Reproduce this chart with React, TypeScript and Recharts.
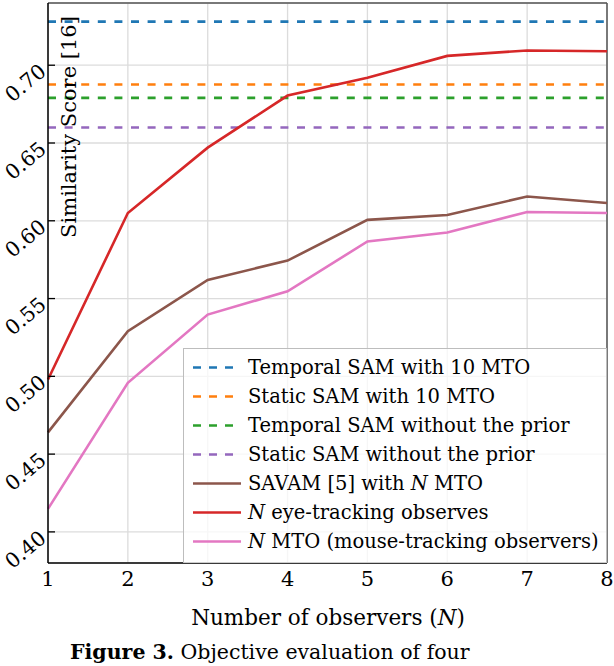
import { LineChart, Line, XAxis, YAxis, CartesianGrid, ReferenceLine } from 'recharts'

// observers N on the x axis
const observers = [1, 2, 3, 4, 5, 6, 7, 8]

// curves
const eyeTracking = [0.498, 0.605, 0.647, 0.6805, 0.692, 0.706, 0.7095, 0.709]
const savamMto = [0.464, 0.529, 0.562, 0.5744, 0.6006, 0.6037, 0.6156, 0.6114]
const mouseTracking = [0.4148, 0.4958, 0.5397, 0.5547, 0.5867, 0.5925, 0.6056, 0.605]

// constant baselines (dashed)
const baselineNames = [
  'Temporal SAM with 10 MTO',
  'Static SAM with 10 MTO',
  'Temporal SAM without the prior',
  'Static SAM without the prior',
]
const baselineValues = [0.728, 0.6876, 0.679, 0.66]
const baselineColors = ['#1f77b4', '#ff7f0e', '#2ca02c', '#9467bd']

const yTicks = [0.4, 0.45, 0.5, 0.55, 0.6, 0.65, 0.7]

const FONT = '"DejaVu Serif", "Liberation Serif", serif'
const W = 614
const H = 666
const PLOT_LEFT = 48

const data = observers.map((n, i) => ({
  n,
  eye: eyeTracking[i],
  savam: savamMto[i],
  mto: mouseTracking[i],
}))

const YTick = (props: any) => {
  const { y, payload } = props
  const ax = 43
  const ay = y + 3
  return (
    <g>
      <line x1={PLOT_LEFT} x2={PLOT_LEFT + 7} y1={y} y2={y} stroke="#000" strokeWidth={1.3} />
      <text
        x={ax}
        y={ay}
        textAnchor="end"
        dominantBaseline="central"
        fontFamily={FONT}
        fontSize={20.5}
        fill="#000"
        transform={`rotate(-40 ${ax} ${ay})`}
      >
        {payload.value.toFixed(2)}
      </text>
    </g>
  )
}

const solidSeries = [
  { key: 'savam', color: '#8c564b', label: <>SAVAM [5] with <i>N</i> MTO</> },
  { key: 'eye', color: '#d62728', label: <><i>N</i> eye-tracking observes</> },
  { key: 'mto', color: '#e377c2', label: <><i>N</i> MTO (mouse-tracking observers)</> },
]

function LegendBox() {
  const rows = [
    ...baselineNames.map((name, i) => ({ label: <>{name}</>, color: baselineColors[i], dashed: true })),
    ...solidSeries.map((s) => ({ label: s.label, color: s.color, dashed: false })),
  ]
  return (
    <div
      style={{
        position: 'absolute',
        left: 183,
        top: 348,
        width: 424,
        height: 215,
        border: '1.5px solid #bdbdbd',
        borderBottom: 'none',
        background: 'rgba(255,255,255,0.75)',
        paddingTop: 4,
        boxSizing: 'border-box',
        fontFamily: FONT,
        fontSize: 19.5,
      }}
    >
      {rows.map((r, i) => (
        <div key={i} style={{ height: 29, display: 'flex', alignItems: 'center' }}>
          <svg width={64} height={29} style={{ flex: 'none' }}>
            <line
              x1={9}
              x2={57}
              y1={14.5}
              y2={14.5}
              stroke={r.color}
              strokeWidth={2.6}
              strokeDasharray={r.dashed ? '8 8' : undefined}
            />
          </svg>
          <span style={{ whiteSpace: 'nowrap' }}>{r.label}</span>
        </div>
      ))}
    </div>
  )
}

export default function App() {
  return (
    <div style={{ position: 'absolute', left: 0, top: 0, width: W, height: H, background: '#fff', overflow: 'hidden' }}>
      <LineChart
        width={W}
        height={H}
        data={data}
        margin={{ top: 3, right: 7, left: 0, bottom: 73 }}
      >
        <CartesianGrid stroke="#dcdcdc" strokeWidth={1.3} />
        <XAxis
          dataKey="n"
          type="number"
          domain={[1, 8]}
          ticks={observers}
          height={30}
          tickLine={false}
          tickMargin={2}
          axisLine={{ stroke: '#000', strokeWidth: 1.5 }}
          tick={{ fontFamily: FONT, fontSize: 21, fill: '#000' }}
        />
        <YAxis
          type="number"
          domain={[0.38, 0.74]}
          ticks={yTicks}
          width={PLOT_LEFT}
          tickLine={false}
          axisLine={{ stroke: '#000', strokeWidth: 1.5 }}
          tick={<YTick />}
          allowDataOverflow
        />
        <ReferenceLine y={0.74} stroke="#555" strokeWidth={1.5} />
        <ReferenceLine x={8} stroke="#555" strokeWidth={1.5} />
        {baselineValues.map((v, i) => (
          <ReferenceLine
            key={i}
            y={v}
            stroke={baselineColors[i]}
            strokeWidth={2.6}
            strokeDasharray="8 8.6"
          />
        ))}
        {solidSeries.map((s) => (
          <Line
            key={s.key}
            dataKey={s.key}
            stroke={s.color}
            strokeWidth={2.6}
            dot={false}
            activeDot={false}
            isAnimationActive={false}
          />
        ))}
      </LineChart>

      <div style={{ position: 'absolute', left: 69, top: 127, width: 0, height: 0 }}>
        <div
          style={{
            position: 'absolute',
            transform: 'translate(-50%, -50%) rotate(-90deg)',
            whiteSpace: 'nowrap',
            fontFamily: FONT,
            fontSize: 21,
          }}
        >
          Similarity Score [16]
        </div>
      </div>

      <LegendBox />

      <div
        style={{
          position: 'absolute',
          left: PLOT_LEFT,
          width: 560,
          top: 605,
          textAlign: 'center',
          fontFamily: FONT,
          fontSize: 21.5,
        }}
      >
        Number of observers (<i>N</i>)
      </div>

      <div
        style={{
          position: 'absolute',
          left: 70,
          top: 639,
          whiteSpace: 'nowrap',
          fontFamily: FONT,
          fontSize: 20.5,
          lineHeight: '26px',
        }}
      >
        <b>Figure 3.</b> Objective evaluation of four
      </div>
    </div>
  )
}
